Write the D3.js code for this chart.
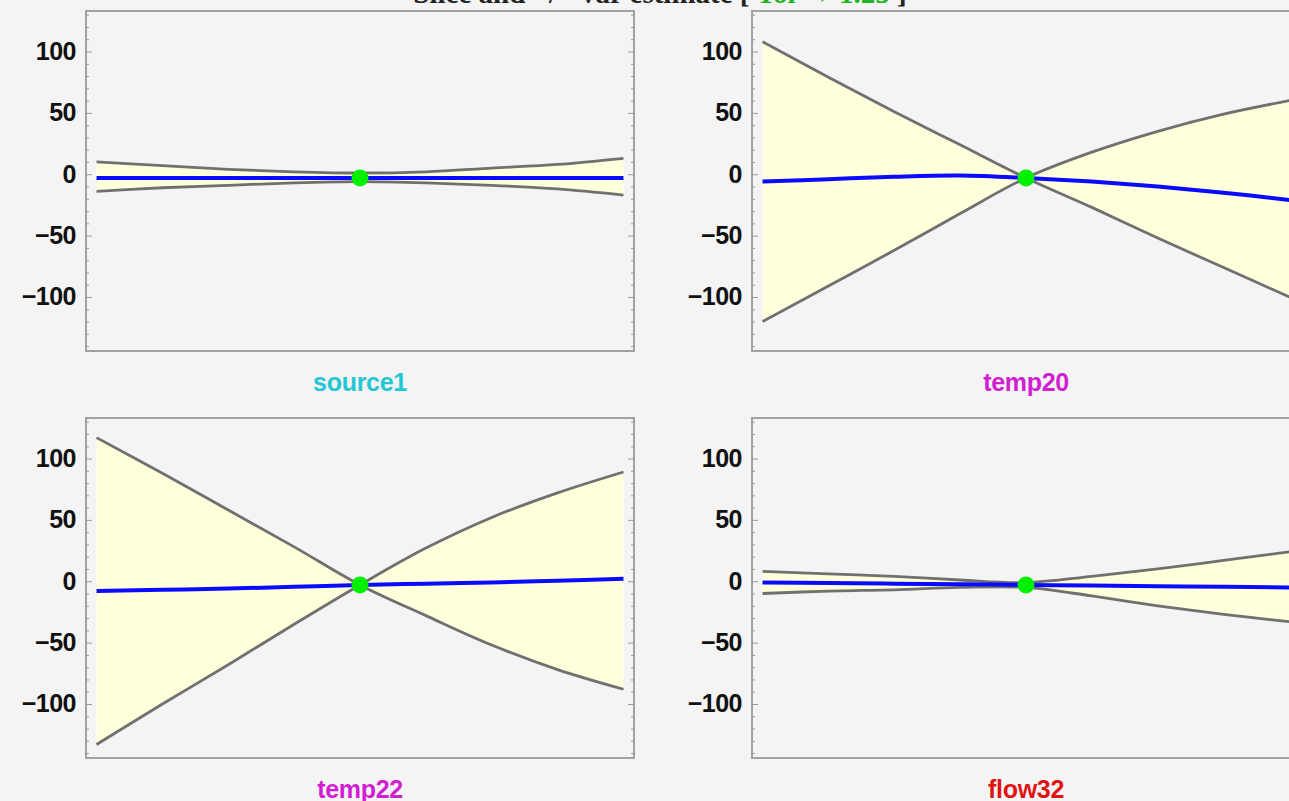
<!DOCTYPE html>
<html>
<head>
<meta charset="utf-8">
<script src="https://cdn.jsdelivr.net/npm/d3@7"></script>
<style>
  body { margin: 0; background: #f4f4f4; }
  svg { display: block; }
  .tick text { font-family: "Liberation Sans", Arial, sans-serif; font-weight: bold; }
</style>
</head>
<body>
<div id="chart"></div>
<script>
// panel names and label colours
var panelNames = ["source1", "temp20", "temp22", "flow32"];
var panelColors = ["#22c6d4", "#d21ed2", "#d21ed2", "#e01414"];

// sample positions along the slice (centre = 0)
var xs = [-1, -0.75, -0.5, -0.25, 0, 0.25, 0.5, 0.75, 1];

// blue estimate per panel
var estSource1 = [-3, -3, -3, -3, -3, -3, -3, -3, -3];
var estTemp20  = [-6, -4, -2, -1, -3, -6, -10, -15, -21];
var estTemp22  = [-8, -7, -6, -4.5, -3, -2, -1, 0.5, 2];
var estFlow32  = [-1, -1.5, -2, -2.5, -3, -3.5, -4, -4.5, -5];

// grey bounds (first / second curve) per panel
var upSource1 = [10, 7, 4, 2, 1, 2, 5, 8, 13];
var loSource1 = [-14, -11, -9, -7, -6, -7, -9, -12, -17];
var upTemp20  = [108, 79, 51, 24, -3, -27, -52, -76, -100];
var loTemp20  = [-120, -91, -62, -32, -3, 18, 35, 49, 60];
var upTemp22  = [117, 88, 58, 28, -3, -28, -52, -72, -88];
var loTemp22  = [-133, -100, -68, -35, -3, 27, 52, 72, 89];
var upFlow32  = [8, 6, 4, 1, -1, 4, 10, 17, 24];
var loFlow32  = [-10, -8, -7, -5, -5, -12, -20, -27, -33];

// centre point value
var centreX = 0;
var centreY = [-3, -3, -3, -3];

var yTicks = [-100, -50, 0, 50, 100];
var yMinor = d3.range(-140, 131, 10).filter(function (v) { return v % 50 != 0; });

var estimates = [estSource1, estTemp20, estTemp22, estFlow32];
var uppers = [upSource1, upTemp20, upTemp22, upFlow32];
var lowers = [loSource1, loTemp20, loTemp22, loFlow32];

var width = 1289,
    height = 801;

var frameW = 548,
    frameH = 340;
var cols = [86, 752],
    rows = [11, 418];

var svg = d3.select("#chart")
            .append("svg")
            .attr("width", width)
            .attr("height", height);

svg.append("rect")
   .attr("width", width)
   .attr("height", height)
   .attr("fill", "#f4f4f4");

// title, mostly cut off at the top of the picture (as in the original)
var title = svg.append("text")
   .attr("x", 660)
   .attr("y", 3)
   .attr("text-anchor", "middle")
   .style("font-family", "Liberation Serif, Times New Roman, serif")
   .style("font-weight", "bold")
   .style("font-size", "29px")
   .attr("fill", "#222");
title.append("tspan").text("Slice and +/\u2212 var estimate [ ");
title.append("tspan").attr("fill", "#22b422").text("Tol \u2192 1.25");
title.append("tspan").text(" ]");

var x = d3.scaleLinear().domain([-1.04, 1.04]).range([0, frameW]);
var y = d3.scaleLinear().domain([-144, 133]).range([frameH, 0]);

var smooth = d3.curveCatmullRom.alpha(0.5);

panelNames.forEach(function (name, i) {
  var px = cols[i % 2],
      py = rows[Math.floor(i / 2)];

  var g = svg.append("g").attr("transform", "translate(" + px + "," + py + ")");

  var pts = xs.map(function (v, j) {
    return { x: v, est: estimates[i][j], up: uppers[i][j], lo: lowers[i][j] };
  });

  var area = d3.area()
      .x(function (d) { return x(d.x); })
      .y0(function (d) { return y(d.lo); })
      .y1(function (d) { return y(d.up); })
      .curve(smooth);

  g.append("path")
   .datum(pts)
   .attr("d", area)
   .attr("fill", "#ffffdc");

  var lineUp = d3.line()
      .x(function (d) { return x(d.x); })
      .y(function (d) { return y(d.up); })
      .curve(smooth);
  var lineLo = d3.line()
      .x(function (d) { return x(d.x); })
      .y(function (d) { return y(d.lo); })
      .curve(smooth);
  var lineEst = d3.line()
      .x(function (d) { return x(d.x); })
      .y(function (d) { return y(d.est); })
      .curve(smooth);

  g.append("path").datum(pts).attr("d", lineUp)
   .attr("fill", "none").attr("stroke", "#707070").attr("stroke-width", 2.8);
  g.append("path").datum(pts).attr("d", lineLo)
   .attr("fill", "none").attr("stroke", "#707070").attr("stroke-width", 2.8);
  g.append("path").datum(pts).attr("d", lineEst)
   .attr("fill", "none").attr("stroke", "#0a0aff").attr("stroke-width", 4);

  g.append("circle")
   .attr("cx", x(centreX))
   .attr("cy", y(centreY[i]))
   .attr("r", 8.5)
   .attr("fill", "#00f000");

  // frame
  g.append("rect")
   .attr("width", frameW)
   .attr("height", frameH)
   .attr("fill", "none")
   .attr("stroke", "#a2a2a2")
   .attr("stroke-width", 2);

  // inward ticks on left and right sides
  var sides = [
    { axis: d3.axisRight, xPos: 0 },
    { axis: d3.axisLeft, xPos: frameW }
  ];
  sides.forEach(function (s) {
    var major = g.append("g").attr("transform", "translate(" + s.xPos + ",0)")
      .call(s.axis(y).tickValues(yTicks).tickSize(6).tickFormat(""));
    var minor = g.append("g").attr("transform", "translate(" + s.xPos + ",0)")
      .call(s.axis(y).tickValues(yMinor).tickSize(3).tickFormat(""));
    [major, minor].forEach(function (a) {
      a.select(".domain").remove();
      a.selectAll("line").attr("stroke", "#999").attr("stroke-width", 1);
    });
  });

  var labels = g.append("g")
    .call(d3.axisLeft(y).tickValues(yTicks).tickSize(0).tickPadding(10));
  labels.select(".domain").remove();
  labels.selectAll("text")
    .style("font-size", "25px")
    .style("letter-spacing", "-0.5px")
    .attr("fill", "#111");

  g.append("text")
   .attr("x", frameW / 2)
   .attr("y", 380)
   .attr("text-anchor", "middle")
   .style("font-family", "Liberation Sans, Arial, sans-serif")
   .style("font-weight", "bold")
   .style("font-size", "25px")
   .style("letter-spacing", "-0.3px")
   .attr("fill", panelColors[i])
   .text(name);
});
</script>
</body>
</html>
